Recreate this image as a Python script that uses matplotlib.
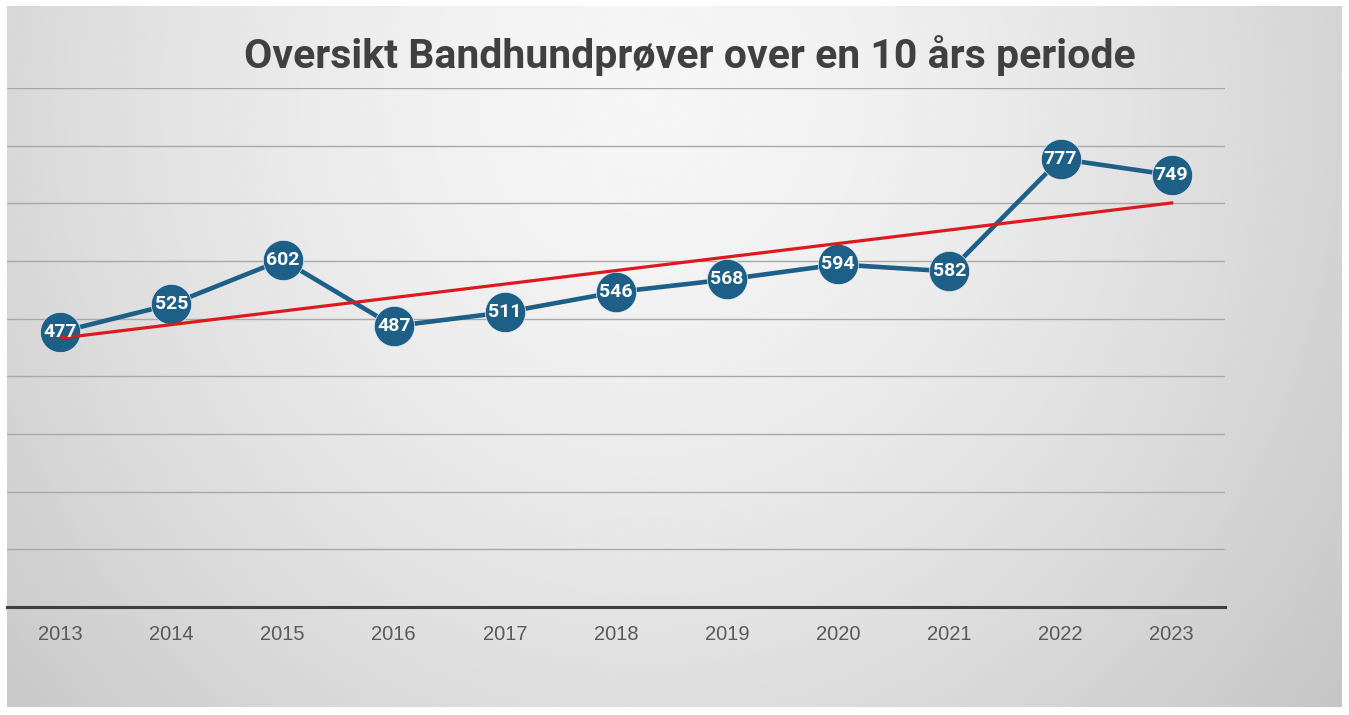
import numpy as np
import matplotlib.pyplot as plt

# data
years = ["2013", "2014", "2015", "2016", "2017", "2018", "2019", "2020", "2021", "2022", "2023"]
counts = [477, 525, 602, 487, 511, 546, 568, 594, 582, 777, 749]
title = "Oversikt Bandhundprøver over en 10 års periode"

W, H = 1349, 715
fig = plt.figure(figsize=(W / 100, H / 100), dpi=100, facecolor="white")

# background panel with a soft radial gradient
bg = fig.add_axes([7 / W, 8 / H, (1342 - 7) / W, (707 - 6) / H])
gx, gy = np.meshgrid(np.linspace(0, 1335, 800), np.linspace(0, 701, 420))
d = np.sqrt(((gx - 640) / 820) ** 2 + ((gy - 90) / 900) ** 2)
shade = np.clip(0.965 - 0.17 * d ** 1.5, 0.76, 1)
bg.imshow(shade, cmap="gray", vmin=0, vmax=1, aspect="auto",
          extent=[0, 1335, 701, 0], interpolation="bicubic")
bg.set_axis_off()

# main plot area
ax = fig.add_axes([7 / W, (H - 607) / H, 1218 / W, 519 / H])
ax.patch.set_alpha(0)
x = np.arange(len(years))

ax.set_ylim(0, 900)
ax.set_xlim(-0.48, len(years) - 1 + 0.48)
ax.set_yticks(np.arange(100, 901, 100))
ax.grid(axis="y", color="#a8a8a8", lw=1.0)
ax.tick_params(axis="y", left=False, labelleft=False)
ax.set_xticks(x)
ax.set_xticklabels(years, family="Liberation Sans", fontsize=14.5, color="#595959")
ax.tick_params(axis="x", length=0, pad=13)
for s in ["top", "left", "right"]:
    ax.spines[s].set_visible(False)
ax.spines["bottom"].set_color("#3f3f3f")
ax.spines["bottom"].set_linewidth(2.2)

# linear trend line
k, m = np.polyfit(x, counts, 1)
ax.plot(x, k * x + m, color="#dc1a1e", lw=2.3, zorder=4)

ax.plot(x, counts, color="#1d5f86", lw=3.3, marker="o", markersize=29,
        markerfacecolor="#1d5f86", markeredgecolor="#e8eef2", markeredgewidth=0.5,
        zorder=3)
for xi, v in zip(x, counts):
    ax.text(xi, v, str(v), ha="center", va="center", color="white",
            family="Roboto", fontweight="bold", fontsize=14, zorder=5)

fig.text(0.511, 0.923, title, ha="center", va="center", family="Roboto",
         fontweight="bold", fontsize=29.5, color="#404040")

fig.savefig("out.png", dpi=100, facecolor="white")
